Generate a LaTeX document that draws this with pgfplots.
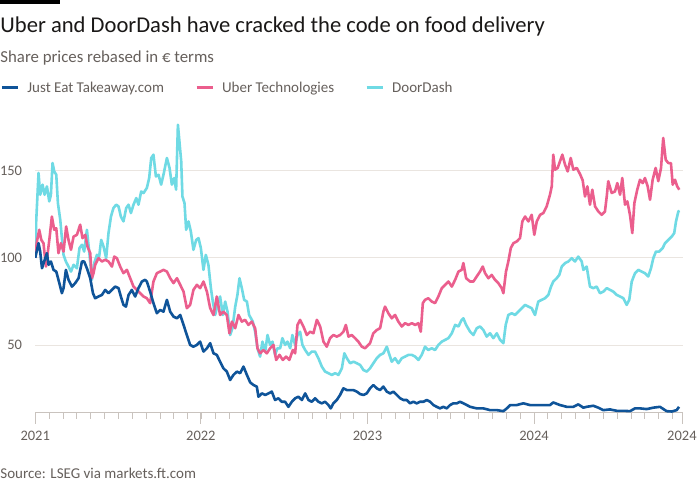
\documentclass[border=0pt]{standalone}
\usepackage{fontspec}
\setmainfont{Carlito}
\usepackage{pgfplots}
\usepackage{pgfplotstable}
\pgfplotsset{compat=1.18}
\definecolor{jetc}{HTML}{0F5499}
\definecolor{uberc}{HTML}{EB5E8D}
\definecolor{dashc}{HTML}{6FDAE4}
\definecolor{txt}{HTML}{1A1817}
\definecolor{subc}{HTML}{66605C}
\definecolor{gridc}{HTML}{EAE5E0}
\definecolor{axisc}{HTML}{C9C3BE}

% x = months since start of 2021 (axis units), y = rebased share price
\pgfplotstableread{
x y
0 100
0.24 108.4
0.36 103.6
0.49 94
0.65 97.9
0.85 102.7
0.97 96
1.14 97.9
1.33 93.1
1.53 92.1
1.69 87.4
1.94 79.7
2.06 82.6
2.23 93.1
2.42 87.4
2.67 83.5
2.91 85.5
3.15 88.3
3.40 97.9
3.56 97.9
3.76 94
4.00 88.3
4.20 79.7
4.36 76.8
4.60 77.8
4.85 78.7
5.09 81.6
5.33 79.7
5.58 81.6
5.82 83.5
6.06 82.6
6.23 77.8
6.42 73
6.60 72
6.79 78.7
7.03 81.6
7.27 77.8
7.51 82.6
7.76 86.4
8.00 87.4
8.12 86.4
8.36 80.6
8.60 74
8.85 68.2
9.09 70.1
9.33 69.1
9.58 75.9
9.82 69.1
10.06 66.3
10.31 65.3
10.55 67.2
10.79 61.5
11.03 55.7
11.27 50
11.51 49
11.76 50
12.00 51.9
12.24 46.2
12.49 48.1
12.73 51
12.97 45.2
13.21 44.3
13.45 40.4
13.69 36.6
13.94 34.7
14.18 29.9
14.42 32.8
14.67 34.7
14.91 33.8
15.15 37.6
15.40 32.8
15.64 28.5
15.88 27
16.12 26.1
16.24 20.3
16.49 22.2
16.73 21.3
16.97 22.2
17.21 23.2
17.45 18.4
17.69 19.4
17.94 17.4
18.18 17.4
18.42 14.5
18.67 17.4
18.91 19.4
19.15 20.3
19.40 18.4
19.64 22.2
19.88 18.4
20.12 17.4
20.36 19.4
20.60 17.4
20.85 16.5
21.09 17.4
21.33 15.5
21.50 13.6
21.69 16.5
21.94 18.4
22.18 21.3
22.42 25.1
22.67 24.1
22.91 24.1
23.15 24.1
23.40 23.2
23.64 21.8
23.88 21.3
24.12 22.2
24.36 25.1
24.60 27
24.85 25.1
25.09 24.1
25.33 26.1
25.58 23.2
25.82 22.2
26.06 23.2
26.31 21.3
26.55 19.4
26.79 18.4
27.03 18.4
27.27 16.5
27.51 17.4
27.76 16.5
28.00 17.4
28.24 17.4
28.49 18.4
28.73 17.4
28.97 15.5
29.21 14.5
29.45 13.6
29.69 14.5
29.94 13.6
30.18 15.5
30.42 16.5
30.67 16.5
30.91 17.4
31.15 16.5
31.40 15.5
31.64 14.5
32.12 13.6
32.60 13.6
33.09 12.6
33.58 12.6
34.06 12
34.31 13.6
34.55 15.5
35.03 15.5
35.51 16.5
36.00 15.5
36.49 15.5
36.97 15.5
37.45 15.5
37.69 17
38.18 15.5
38.67 14.5
39.15 14.5
39.51 15.9
39.88 14
40.12 14.5
40.60 15.1
40.97 14
41.33 12.6
41.82 13
42.31 12.2
42.79 12.2
43.27 12
43.64 13.6
44.00 13.6
44.49 13.2
44.97 14
45.45 14.5
45.94 12
46.31 11.8
46.67 12.6
46.84 14.5
}\jettable

\pgfplotstableread{
x y
0 100
0.12 109.4
0.29 116.1
0.44 110.3
0.60 108.4
0.78 95
0.89 101.7
1.04 111.3
1.21 123.7
1.38 116.1
1.53 117
1.69 102.7
1.87 108.4
2.06 103.6
2.25 118
2.42 110.3
2.60 104.6
2.79 112.2
3.03 113.2
3.27 119
3.44 111.3
3.64 113.2
3.80 106.5
4.00 102.7
4.12 88.3
4.24 91.2
4.36 96
4.60 99.8
4.85 97.9
5.09 98.9
5.33 97.9
5.58 95
5.75 100.7
5.94 99.8
6.18 95
6.42 91.2
6.67 93.1
6.91 88.3
7.15 83.5
7.40 81.6
7.64 79.7
7.88 77.8
8.12 76.8
8.36 74
8.60 86.4
8.85 91.2
9.09 92.1
9.33 93.1
9.58 92.1
9.82 88.3
10.06 85.5
10.31 88.3
10.55 84.5
10.79 80.6
11.03 71.1
11.27 73
11.51 81.6
11.76 84.5
12.00 82.6
12.24 86.4
12.49 80.6
12.73 71.1
12.97 67.2
13.21 77.8
13.45 67.2
13.69 69.1
13.94 67.2
14.13 56.7
14.31 63.4
14.55 59.6
14.79 67.2
15.03 63.4
15.27 64.4
15.51 61.5
15.76 63.4
16.00 59.6
16.17 48.1
16.36 45.2
16.60 47.1
16.85 45.2
17.09 48.1
17.33 50
17.53 41.4
17.77 44.3
18.01 41.4
18.25 43.3
18.49 41.4
18.74 47.1
18.91 45.2
19.08 61.5
19.27 64.4
19.51 60.6
19.76 55.7
20.00 57.6
20.24 56.7
20.49 64.4
20.73 60.6
20.97 51.9
21.21 49
21.45 53.9
21.69 55.7
21.94 54.8
22.18 55.7
22.42 57.6
22.60 61.5
22.79 54.8
23.03 55.7
23.27 53.9
23.51 51.9
23.76 49
24.00 48.1
24.36 51
24.60 56.7
24.85 58.6
25.09 59.6
25.33 69.1
25.45 72
25.69 68.2
25.94 65.3
26.18 67.2
26.42 63.4
26.67 60.6
26.91 62.5
27.15 61.5
27.40 62.5
27.64 61.5
27.88 62.5
28.05 57.6
28.20 74
28.36 75.9
28.60 76.8
28.85 74.9
29.09 74
29.33 77.8
29.58 82.6
29.82 84.5
30.06 86.4
30.31 83.5
30.55 87.4
30.79 92.1
31.03 93.1
31.15 97
31.35 88.3
31.64 86.4
31.88 86.4
32.12 89.3
32.36 92.1
32.56 95
32.73 91.2
32.97 88.3
33.21 90.2
33.45 87.4
33.69 85.5
33.94 82.6
34.06 79.7
34.25 92.1
34.42 97.9
34.60 105.6
34.79 108.4
35.03 109.4
35.27 111.3
35.44 120.9
35.64 123.7
35.88 120.9
36.12 124.7
36.31 113.2
36.49 120.9
36.73 124.7
36.97 125.7
37.21 129.5
37.45 136.2
37.58 141
37.69 159.2
37.82 150.6
38.01 151.6
38.18 155.4
38.35 159.2
38.55 153.4
38.74 149.6
38.96 157.3
39.15 150.6
39.40 151.6
39.64 148
39.83 144.5
40.00 135.2
40.17 141
40.36 130.5
40.53 139.1
40.73 129.5
40.97 126.6
41.21 124.7
41.45 126.6
41.58 135.2
41.69 144
41.94 137.2
42.18 138.1
42.35 142.9
42.55 136.2
42.71 145.8
42.91 130.5
43.08 132.4
43.27 124.7
43.44 114.2
43.59 131.4
43.80 139.1
44.00 144.8
44.20 142.9
44.36 145.8
44.56 141
44.73 133.3
44.92 144.8
45.14 151.6
45.33 144
45.53 151.6
45.69 168.8
45.87 156.3
46.06 154.4
46.25 154.4
46.38 142
46.55 144.8
46.71 141
46.86 139.1
}\ubertable

\pgfplotstableread{
x y
0 100
0.07 120.9
0.24 148.7
0.36 136.2
0.53 142
0.68 136.2
0.85 141
1.02 132.4
1.14 136.2
1.26 154.4
1.38 149.6
1.53 147.7
1.65 131.4
1.82 121.8
1.94 111.3
2.06 101.7
2.23 97.9
2.42 95
2.60 92.1
2.79 96
3.03 94
3.22 105.6
3.40 107.5
3.56 103.6
3.76 116.1
3.95 101.7
4.12 87.4
4.29 97
4.49 101.7
4.65 100.7
4.80 110.3
4.97 106.5
5.16 99.8
5.33 114.2
5.51 123.7
5.69 128.6
5.89 130.5
6.06 129.5
6.23 123.7
6.42 120.9
6.62 128.6
6.79 130.5
6.96 125.7
7.15 130.5
7.35 134.3
7.51 130.5
7.71 138.1
7.88 137.2
8.12 140.1
8.29 145.8
8.44 157.3
8.60 159.2
8.78 146.7
8.97 147.7
9.16 142
9.33 147.7
9.58 157.3
9.77 151.6
9.94 142
10.11 145.8
10.25 139.1
10.38 176.4
10.49 166.8
10.62 155.4
10.71 135.2
10.86 131.4
10.98 116.1
11.15 120.9
11.32 115.2
11.51 104.6
11.71 110.3
11.88 111.3
12.05 105.6
12.24 93.1
12.41 101.7
12.60 96
12.78 82.6
12.92 74.9
13.09 67.2
13.26 73
13.45 77.8
13.65 67.2
13.82 74.9
13.99 69.1
14.18 55.7
14.35 59.6
14.55 72
14.71 78.7
14.86 88.3
15.03 82.6
15.20 75.9
15.40 74.9
15.56 67.2
15.83 63.4
16.00 57.6
16.17 48.1
16.36 43.3
16.53 51.9
16.73 46.2
16.90 55.7
17.09 50
17.26 51.9
17.45 44.3
17.62 48.1
17.82 48.1
17.98 53.9
18.18 50
18.35 51.9
18.55 48.1
18.71 55.7
18.91 50
19.08 55.7
19.27 57.6
19.44 50
19.64 47.1
19.88 44.3
20.12 46.2
20.36 46.2
20.60 42.4
20.85 37.6
21.09 34.7
21.33 33.8
21.58 32.8
21.82 33.8
22.06 32.8
22.31 36.6
22.49 45.2
22.67 42.4
22.91 39.5
23.15 40.4
23.40 39.5
23.64 38.5
23.88 35.6
24.12 34.7
24.36 36.6
24.60 39.5
24.85 42.4
25.09 44.3
25.33 45.2
25.58 49
25.77 44.3
25.94 40.4
26.18 42.4
26.42 39.5
26.67 42.4
26.91 43.3
27.15 44.3
27.40 44.3
27.64 43.3
27.88 41.4
28.12 44.3
28.36 49
28.60 47.1
28.85 48.1
29.09 47.1
29.33 50
29.58 51.9
29.82 52.9
30.06 53.9
30.31 56.7
30.55 61.5
30.79 60.6
31.03 64.4
31.15 65.3
31.35 61.5
31.64 57.6
31.88 55.7
32.12 59.6
32.36 60.6
32.60 58.6
32.85 54.8
33.09 56.7
33.33 53.9
33.58 56.7
33.82 52.9
34.06 51
34.23 61.5
34.42 67.2
34.67 68.2
34.91 67.2
35.15 69.1
35.40 71.1
35.64 73
35.88 72
36.12 71.1
36.36 67.2
36.60 74.9
36.85 75.9
37.09 76.8
37.33 78.7
37.53 83.5
37.69 86.4
37.94 88.3
38.13 90.2
38.31 95
38.55 97
38.79 97.9
39.03 99.8
39.27 97.9
39.51 100.7
39.76 97.9
39.88 93.1
40.12 95
40.36 83.5
40.60 82.6
40.85 83.5
41.09 79.7
41.33 80.6
41.58 82.6
41.82 81.6
42.06 80.6
42.31 78.7
42.55 77.8
42.79 76.8
43.03 73
43.22 75.9
43.40 86.4
43.64 91.2
43.88 93.1
44.12 92.1
44.36 91.2
44.60 89.3
44.80 94
44.97 99.8
45.16 103.6
45.40 103.6
45.65 105.6
45.82 108.4
46.06 110.3
46.31 112.2
46.49 114.2
46.62 120.9
46.79 126.6
46.88 127
}\dashtable

\begin{document}
\begin{tikzpicture}
\fill[white] (0pt,0pt) rectangle (700pt,-500pt);
\fill[black] (0pt,0pt) rectangle (60pt,-4.5pt);
\node[anchor=base west, inner sep=0pt, text=txt, font=\fontsize{22.6}{26}\selectfont] at (0pt,-32.3pt) {Uber and DoorDash have cracked the code on food delivery};
\node[anchor=base west, inner sep=0pt, text=subc, font=\fontsize{16.8}{19}\selectfont] at (0pt,-62.3pt) {Share prices rebased in € terms};
\node[anchor=base west, inner sep=0pt, text=subc, font=\fontsize{15}{17}\selectfont] at (0pt,-479pt) {Source: LSEG via markets.ft.com};
\begin{axis}[
  scale only axis, width=648pt, height=297.7pt,
  at={(35pt,-412.7pt)}, anchor=south west,
  xmin=0, xmax=47.13, ymin=11.2, ymax=182,
  axis x line*=bottom, axis y line*=left,
  y axis line style={draw=none},
  x axis line style={draw=axisc, line width=0.8pt},
  ytick={50,100,150}, ymajorgrids,
  grid style={draw=gridc, line width=0.8pt},
  ytick style={draw=none},
  yticklabel style={anchor=east, inner sep=0pt, xshift=-2pt, text=subc, font=\fontsize{14.5}{16}\selectfont},
  /pgf/number format/assume math mode=true,
  xtick={0,12.05,24.17,36.29,47.05},
  xticklabels={2021,2022,2023,2024,2024},
  minor xtick={1.008,2.016,...,46.5},
  tick align=outside, major tick length=11pt, minor tick length=6pt,
  xtick style={draw=axisc, line width=0.8pt},
  minor tick style={draw=axisc, line width=0.8pt},
  xticklabel style={anchor=north, yshift=-4pt, text=subc, font=\fontsize{14.5}{16}\selectfont},
  legend style={at={(axis description cs:0,1)}, anchor=west, xshift=-35pt, yshift=27pt,
    draw=none, fill=none, inner sep=0pt, font=\fontsize{15}{17}\selectfont, text=subc,
    nodes={inner sep=0pt},
    /tikz/every odd column/.append style={column sep=7.5pt},
    /tikz/every even column/.append style={column sep=31pt}},
  legend columns=3, reverse legend,
  legend image code/.code={\draw[line width=3pt] (0pt,0pt) -- (16.5pt,0pt);},
  every axis plot/.append style={line width=2.6pt, line join=round},
]
\addplot[dashc] table[x=x,y=y] {\dashtable};
\addlegendentry{DoorDash}
\addplot[uberc] table[x=x,y=y] {\ubertable};
\addlegendentry{Uber Technologies}
\addplot[jetc] table[x=x,y=y] {\jettable};
\addlegendentry{Just Eat Takeaway.com}
\end{axis}
\end{tikzpicture}
\end{document}
